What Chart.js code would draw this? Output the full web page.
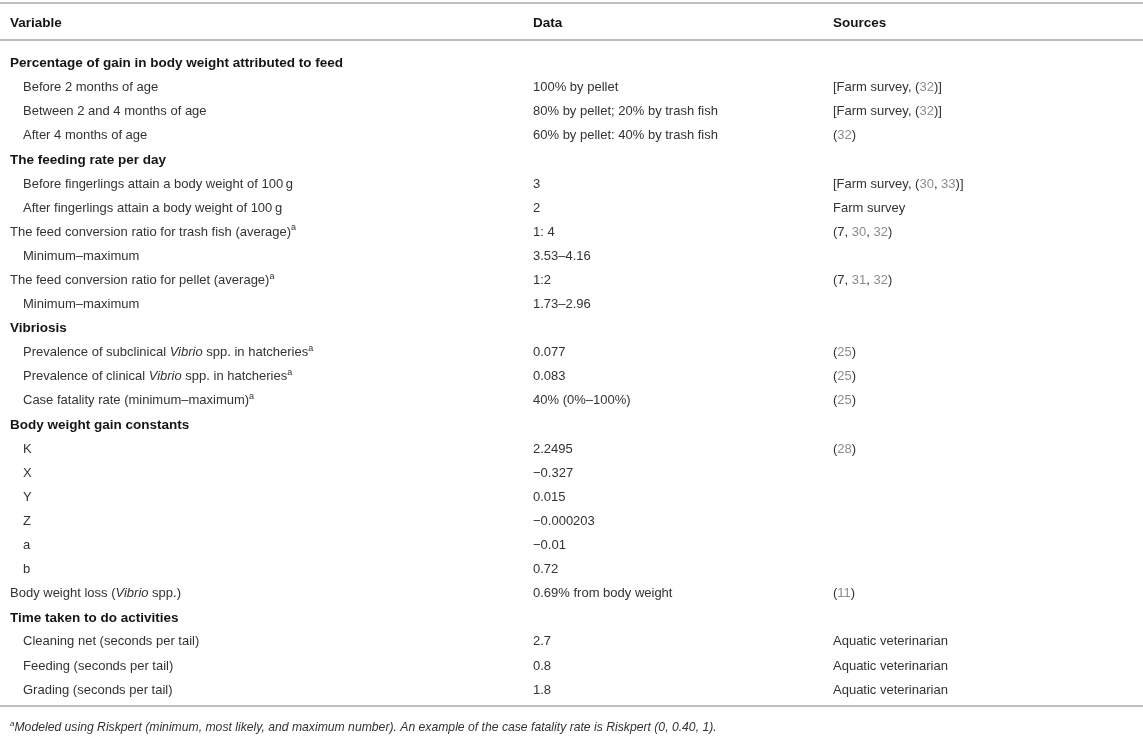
<!DOCTYPE html>
<html><head><meta charset="utf-8">
<script src="https://cdn.jsdelivr.net/npm/chart.js@4.4.1/dist/chart.umd.min.js"></script>
<style>html,body{margin:0;padding:0;background:#fff;} #wrap{width:1143px;height:739px;}</style>
</head><body><div id="wrap"><canvas id="c" width="1143" height="739"></canvas></div>
<script>
// ---- table content ----
const headers = ['Variable', 'Data', 'Sources'];
const rowKinds = ['group','sub','sub','sub','group','sub','sub','main','sub','main','sub','group','sub','sub','sub','group','sub','sub','sub','sub','sub','sub','main','group','sub','sub','sub'];
const variables = [
  'Percentage of gain in body weight attributed to feed',
  'Before 2 months of age',
  'Between 2 and 4 months of age',
  'After 4 months of age',
  'The feeding rate per day',
  'Before fingerlings attain a body weight of 100\u2009g',
  'After fingerlings attain a body weight of 100\u2009g',
  'The feed conversion ratio for trash fish (average)^{a}',
  'Minimum\u2013maximum',
  'The feed conversion ratio for pellet (average)^{a}',
  'Minimum\u2013maximum',
  'Vibriosis',
  'Prevalence of subclinical _Vibrio_ spp. in hatcheries^{a}',
  'Prevalence of clinical _Vibrio_ spp. in hatcheries^{a}',
  'Case fatality rate (minimum\u2013maximum)^{a}',
  'Body weight gain constants',
  'K', 'X', 'Y', 'Z', 'a', 'b',
  'Body weight loss (_Vibrio_ spp.)',
  'Time taken to do activities',
  'Cleaning net (seconds per tail)',
  'Feeding (seconds per tail)',
  'Grading (seconds per tail)'
];
const dataValues = [
  '', '100% by pellet', '80% by pellet; 20% by trash fish', '60% by pellet: 40% by trash fish',
  '', '3', '2', '1: 4', '3.53\u20134.16', '1:2', '1.73\u20132.96',
  '', '0.077', '0.083', '40% (0%\u2013100%)',
  '', '2.2495', '\u22120.327', '0.015', '\u22120.000203', '\u22120.01', '0.72',
  '0.69% from body weight',
  '', '2.7', '0.8', '1.8'
];
const sources = [
  '', '[Farm survey, ({32})]', '[Farm survey, ({32})]', '({32})',
  '', '[Farm survey, ({30}, {33})]', 'Farm survey', '(7, {30}, {32})', '', '(7, {31}, {32})', '',
  '', '({25})', '({25})', '({25})',
  '', '({28})', '', '', '', '', '',
  '({11})',
  '', 'Aquatic veterinarian', 'Aquatic veterinarian', 'Aquatic veterinarian'
];
const footnote = '^{a}Modeled using Riskpert (minimum, most likely, and maximum number). An example of the case fatality rate is Riskpert (0, 0.40, 1).';

// ---- layout (scale units: x in px-like units, y in row units) ----
const colX = { variable: 10, indent: 23, data: 533, sources: 833 };
const rowLayout = { headerRow: -1.66, topRule: -2.51, headRule: -0.975, bottomRule: 26.66, footRow: 27.57, yMin: -2.6349, yMax: 28.029 };
const FONT = "'Liberation Sans', Arial, Helvetica, sans-serif";
const TEXT = '#333333', BOLD = '#151515', REF = '#8c8c8c', RULE = '#bdbdbd';
const SIZE_REG = 13, SIZE_BOLD = 13.5, SIZE_FOOT = 12.2;

function drawRich(ctx, text, x, y, opt) {
  const size = opt.size, weight = opt.weight || 'normal', baseItalic = !!opt.italic;
  const parts = text.split(/(_[^_]*_|\^\{[^}]*\}|\{[^}]*\})/g).filter(p => p.length);
  for (const p of parts) {
    let t = p, italic = baseItalic, sup = false, color = opt.color || TEXT;
    if (p.startsWith('^{')) { t = p.slice(2, -1); sup = true; }
    else if (p.startsWith('_') && p.endsWith('_') && p.length > 1) { t = p.slice(1, -1); italic = true; }
    else if (p.startsWith('{')) { t = p.slice(1, -1); color = REF; }
    const s = sup ? Math.round(size * 0.68) : size;
    ctx.font = (italic ? 'italic ' : '') + weight + ' ' + s + 'px ' + FONT;
    ctx.fillStyle = color;
    ctx.textBaseline = 'middle';
    ctx.fillText(t, x, sup ? y - size * 0.33 : y);
    x += ctx.measureText(t).width;
  }
}

const tablePlugin = {
  id: 'tableText',
  afterDraw(chart) {
    const ctx = chart.ctx, xs = chart.scales.x, ys = chart.scales.y;
    ctx.save();
    // rules
    ctx.strokeStyle = RULE; ctx.lineWidth = 2;
    [rowLayout.topRule, rowLayout.headRule, rowLayout.bottomRule].forEach(r => {
      const py = Math.round(ys.getPixelForValue(r));
      ctx.beginPath(); ctx.moveTo(xs.left, py); ctx.lineTo(xs.right, py); ctx.stroke();
    });
    // header
    const hy = ys.getPixelForValue(rowLayout.headerRow);
    const hOpt = { size: SIZE_BOLD, weight: 'bold', color: BOLD };
    drawRich(ctx, headers[0], xs.getPixelForValue(colX.variable), hy, hOpt);
    drawRich(ctx, headers[1], xs.getPixelForValue(colX.data), hy, hOpt);
    drawRich(ctx, headers[2], xs.getPixelForValue(colX.sources), hy, hOpt);
    // body rows
    variables.forEach((v, i) => {
      const py = ys.getPixelForValue(i);
      const kind = rowKinds[i];
      if (kind === 'group') {
        drawRich(ctx, v, xs.getPixelForValue(colX.variable), py, hOpt);
      } else {
        const vx = kind === 'sub' ? colX.indent : colX.variable;
        drawRich(ctx, v, xs.getPixelForValue(vx), py, { size: SIZE_REG });
      }
      if (dataValues[i]) drawRich(ctx, dataValues[i], xs.getPixelForValue(colX.data), py, { size: SIZE_REG });
      if (sources[i]) drawRich(ctx, sources[i], xs.getPixelForValue(colX.sources), py, { size: SIZE_REG });
    });
    // footnote
    drawRich(ctx, footnote, xs.getPixelForValue(colX.variable), ys.getPixelForValue(rowLayout.footRow), { size: SIZE_FOOT, italic: true });
    ctx.restore();
  }
};

const rowPoints = variables.map((v, i) => ({ x: colX.variable, y: i }));

new Chart(document.getElementById('c'), {
  type: 'scatter',
  data: { datasets: [{ label: 'rows', data: rowPoints, pointRadius: 0, pointHoverRadius: 0 }] },
  options: {
    responsive: false,
    animation: false,
    events: [],
    layout: { padding: 0, autoPadding: false },
    plugins: { legend: { display: false }, tooltip: { enabled: false } },
    scales: {
      x: { type: 'linear', display: false, min: 0, max: 1143 },
      y: { type: 'linear', display: false, min: rowLayout.yMin, max: rowLayout.yMax, reverse: true }
    }
  },
  plugins: [tablePlugin]
});
</script>
</body></html>
